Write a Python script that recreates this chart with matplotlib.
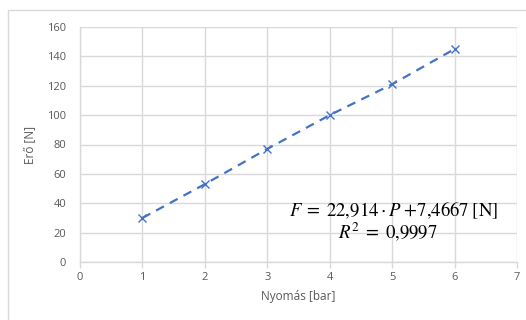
import matplotlib.pyplot as plt
from matplotlib.patches import Rectangle

# measured points
pressure = [1, 2, 3, 4, 5, 6]
force = [30, 53, 77, 100, 121, 145]

x_ticks = [0, 1, 2, 3, 4, 5, 6, 7]
y_ticks = [0, 20, 40, 60, 80, 100, 120, 140, 160]

grid_col = '#d9d9d9'
text_col = '#595959'
line_col = '#4472c4'

plt.rcParams['font.family'] = ['Open Sans', 'DejaVu Sans']
plt.rcParams['mathtext.fontset'] = 'stix'

fig = plt.figure(figsize=(5.26, 3.2), dpi=100)
fig.patches.append(Rectangle((8 / 526, -0.1), 1.2, 1.1 - 10 / 320, transform=fig.transFigure,
                             fill=False, edgecolor=grid_col, linewidth=1))

ax = fig.add_axes([80 / 526, 1 - 262 / 320, 437 / 526, 235 / 320])
ax.plot(pressure, force, linestyle=(0, (4, 3)), color=line_col, linewidth=1.6,
        marker='x', markersize=5.5, markeredgewidth=1.0)

ax.set_xlim(0, 7)
ax.set_ylim(0, 160)
ax.set_xticks(x_ticks)
ax.set_yticks(y_ticks)
ax.grid(True, color=grid_col, linewidth=1)
ax.set_axisbelow(True)
for s in ['top', 'right']:
    ax.spines[s].set_visible(False)
for s in ['left', 'bottom']:
    ax.spines[s].set_color(grid_col)
    ax.spines[s].set_linewidth(1)
ax.tick_params(axis='x', colors=grid_col, labelcolor=text_col, labelsize=8, length=4, width=1, pad=3)
ax.tick_params(axis='y', length=0, labelcolor=text_col, labelsize=8, pad=10)

ax.set_xlabel('Nyomás [bar]', color=text_col, fontsize=8.5, labelpad=5)
ax.set_ylabel('Erő [N]', color=text_col, fontsize=8.5, labelpad=8)

ax.text(5.03, 35, r'$F\;=\;22{,}914\cdot P\;{+}7{,}4667\;[\mathrm{N}]$', ha='center', va='center', fontsize=13.5)
ax.text(4.93, 20.5, r'$R^2\;=\;0{,}9997$', ha='center', va='center', fontsize=13.5)

fig.savefig('out.png', dpi=100)
